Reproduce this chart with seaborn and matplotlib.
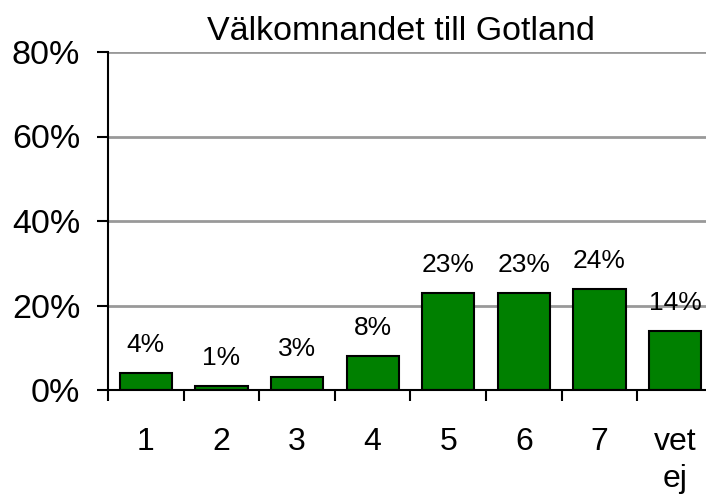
import numpy as np
import pandas as pd
import seaborn as sns
import matplotlib.pyplot as plt
from matplotlib.ticker import FixedLocator, PercentFormatter

# answers on a 1-7 scale plus "don't know"
categories = ['1', '2', '3', '4', '5', '6', '7', 'vet\nej']
shares = [0.04, 0.01, 0.03, 0.08, 0.23, 0.23, 0.24, 0.14]
bar_labels = ['4%', '1%', '3%', '8%', '23%', '23%', '24%', '14%']

sns.set_theme(style='white')
plt.rcParams['font.family'] = ['Liberation Sans', 'DejaVu Sans']

df = pd.DataFrame({'svar': categories, 'andel': shares})

fig = plt.figure(figsize=(7.06, 5), dpi=100)
ax = fig.add_axes([108 / 706, 1 - 390 / 500, 605 / 706, 338 / 500])

sns.barplot(data=df, x='svar', y='andel', color='#008000', saturation=1,
            width=0.69, edgecolor='black', linewidth=1.5, ax=ax)

ax.set_ylim(0, 0.8)
ax.set_xlim(-0.5, len(categories) - 0.5)
ax.yaxis.set_major_locator(FixedLocator([0, 0.2, 0.4, 0.6, 0.8]))
ax.yaxis.set_major_formatter(PercentFormatter(1.0, decimals=0))
ax.grid(axis='y', color='#999999', linewidth=2)
ax.set_axisbelow(True)

for s in ['top', 'right']:
    ax.spines[s].set_visible(False)
for s in ['left', 'bottom']:
    ax.spines[s].set_color('black')
    ax.spines[s].set_linewidth(1.5)

# tick marks between categories, labels centred under the bars
ax.xaxis.set_minor_locator(FixedLocator(np.arange(-0.5, len(categories), 1.0)))
ax.tick_params(axis='x', which='major', length=0, pad=27, labelsize=23, colors='black')
ax.tick_params(axis='x', which='minor', bottom=True, length=8, width=1.5, color='black')
ax.tick_params(axis='y', left=True, length=8, width=1.5, color='black', pad=12,
               labelsize=24.5, labelcolor='black')
for t in ax.get_xticklabels():
    t.set_linespacing(1.3)

ax.set_xlabel('')
ax.set_ylabel('')

for i, (v, lab) in enumerate(zip(shares, bar_labels)):
    ax.annotate(lab, (i, v), xytext=(0, 15), textcoords='offset points',
                ha='center', va='baseline', fontsize=19, color='black')

ax.set_title('Välkomnandet till Gotland', fontsize=24.5, color='black',
             x=0.485, pad=9)

fig.savefig('out.png', dpi=100)
